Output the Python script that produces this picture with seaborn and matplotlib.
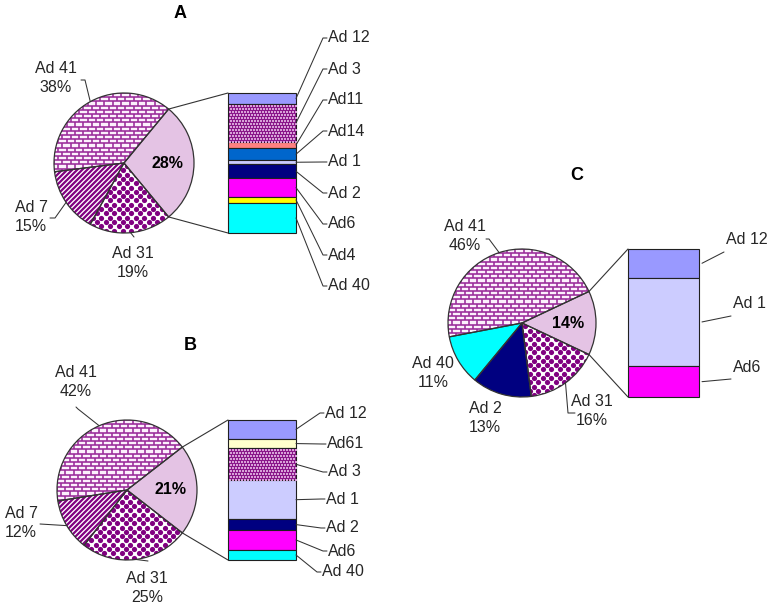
import numpy as np
import matplotlib
matplotlib.use("Agg")
import matplotlib.pyplot as plt
import seaborn as sns
from matplotlib.collections import LineCollection

# ---- data (percent of isolates) ----
# panel A
a_pie_names = ["Others", "Ad 41", "Ad 7", "Ad 31"]
a_pie_values = [28, 38, 15, 19]
a_bar_names = ["Ad 12", "Ad 3", "Ad11", "Ad14", "Ad 1", "Ad 2", "Ad6", "Ad4", "Ad 40"]
a_bar_values = [2.2, 7.5, 1.3, 2.4, 0.8, 2.8, 3.7, 1.2, 6.0]

# panel B
b_pie_names = ["Others", "Ad 41", "Ad 7", "Ad 31"]
b_pie_values = [21, 42, 12, 25]
b_bar_names = ["Ad 12", "Ad61", "Ad 3", "Ad 1", "Ad 2", "Ad6", "Ad 40"]
b_bar_values = [2.8, 1.45, 4.75, 5.85, 1.6, 3.0, 1.5]

# panel C
c_pie_names = ["Others", "Ad 41", "Ad 40", "Ad 2", "Ad 31"]
c_pie_values = [14, 46, 11, 13, 16]
c_bar_names = ["Ad 12", "Ad 1", "Ad6"]
c_bar_values = [2.7, 8.4, 2.9]

PURPLE = "#800080"
pie_face = {"Others": "#e4c3e4", "Ad 41": "#fcf0fc", "Ad 7": "white",
            "Ad 31": "white", "Ad 40": "#00ffff", "Ad 2": "#000080"}
pie_pattern = {"Ad 41": "brick", "Ad 7": "stripe", "Ad 31": "dots"}
bar_face = {"Ad 12": "#9999ff", "Ad 3": "#8a168a", "Ad11": "#ff8080",
            "Ad14": "#0066cc", "Ad 1": "#ccccff", "Ad 2": "#000080",
            "Ad6": "#ff00ff", "Ad4": "#ffff00", "Ad 40": "#00ffff",
            "Ad61": "#ffffcc"}

sns.set_theme(style="white")
plt.rcParams["font.family"] = ["Liberation Sans", "DejaVu Sans"]

fig = plt.figure(figsize=(7.72, 6.09), dpi=100)
ax = fig.add_axes([0, 0, 1, 1])
LINE = "#333333"
TXT = "#262626"


def edge_pt(cx, cy, r, ang):
    t = np.deg2rad(ang)
    return cx + r * np.cos(t), cy - r * np.sin(t)


def add_pattern(kind, patch, cx, cy, r):
    if kind == "brick":
        segs = []
        h, w = 4.2, 8.4
        for k, y0 in enumerate(np.arange(cy - r, cy + r + h, h)):
            segs.append([(cx - r, y0), (cx + r, y0)])
            off = (k % 2) * w / 2
            for x0 in np.arange(cx - r - w + off, cx + r + w, w):
                segs.append([(x0, y0), (x0, y0 + h)])
        lc = LineCollection(segs, colors="#992a99", linewidths=1.15, zorder=2)
        ax.add_collection(lc)
        lc.set_clip_path(patch)
    elif kind == "stripe":
        segs = [[(x0, cy + r), (x0 + 2 * r, cy - r)]
                for x0 in np.arange(cx - 3 * r, cx + r, 5.0)]
        lc = LineCollection(segs, colors=PURPLE, linewidths=1.6, zorder=2)
        ax.add_collection(lc)
        lc.set_clip_path(patch)
    elif kind == "dots":
        xs, ys = [], []
        for k, y0 in enumerate(np.arange(cy - r, cy + r + 5, 4.3)):
            off = (k % 2) * 4.3
            for x0 in np.arange(cx - r - 8.6 + off, cx + r + 8.6, 8.6):
                xs.append(x0)
                ys.append(y0)
        sc = ax.scatter(xs, ys, s=14, marker="o", color=PURPLE, linewidths=0, zorder=2)
        sc.set_clip_path(patch)
    elif kind == "fine":
        x0, y0 = patch.get_x(), patch.get_y()
        w, h = patch.get_width(), patch.get_height()
        xs, ys = [], []
        for k, yy in enumerate(np.arange(y0 + 1.5, y0 + h, 3.0)):
            for xx in np.arange(x0 + 1.5 + (k % 2) * 1.5, x0 + w, 3.0):
                xs.append(xx)
                ys.append(yy)
        sc = ax.scatter(xs, ys, s=1.0, marker="s", color="#d8a0d8", linewidths=0, zorder=3.5)
        sc.set_clip_path(patch)


def panel(title, title_xy, names, values, cx, cy, r, pie_labels,
          bar_names, bar_values, bar_x, bar_w, bar_labels, gap_style=False):
    half = values[0] * 3.6 / 2
    faces = [pie_face[n] for n in names]
    wedges, _ = ax.pie(values, colors=faces, center=(cx, cy), radius=r,
                       startangle=half, counterclock=False, frame=True,
                       wedgeprops=dict(linewidth=0, zorder=1))
    for n, w in zip(names, wedges):
        if n in pie_pattern:
            add_pattern(pie_pattern[n], w, cx, cy, r)
    ax.pie(values, colors=["none"] * len(values), center=(cx, cy), radius=r,
           startangle=half, counterclock=False, frame=True,
           wedgeprops=dict(edgecolor=LINE, linewidth=0.9, fill=False, zorder=3))

    # visual angles of each slice
    cum = np.concatenate([[0], np.cumsum(values)]) * 3.6 - half
    mids = (cum[:-1] + cum[1:]) / 2

    # bold percent inside the exploded slice
    px, py = edge_pt(cx, cy, r * 0.62, mids[0])
    ax.text(px, py, f"{values[0]}%", ha="center", va="center",
            fontsize=11.5, fontweight="bold", color="black", zorder=5)

    # outer labels
    for i, n in enumerate(names[1:], start=1):
        if n not in pie_labels:
            continue
        (tx, ty), leader = pie_labels[n]
        ax.text(tx, ty, f"{n}\n{values[i]}%", ha="center", va="center",
                fontsize=11.5, color=TXT, linespacing=1.3, zorder=5)
        if leader:
            pts = [edge_pt(cx, cy, r, mids[i])] + leader
            ax.plot(*zip(*pts), color=LINE, lw=0.75, zorder=4)

    # stacked bar for the "other" slice
    scale = 2 * r / sum(bar_values)
    heights = np.array(bar_values) * scale
    bottoms = (cy - r) + np.concatenate([[0], np.cumsum(heights)[:-1]])
    bars = ax.bar(bar_x + bar_w / 2, heights, bottom=bottoms, width=bar_w,
                  color=[bar_face[n] for n in bar_names],
                  edgecolor="#202020", linewidth=0.8, zorder=3)
    for n, b in zip(bar_names, bars):
        if n == "Ad 3":
            add_pattern("fine", b, 0, 0, 0)

    # connector lines pie -> bar
    for ang, yb in [(half, cy - r), (-half, cy + r)]:
        ex, ey = edge_pt(cx, cy, r, ang)
        ax.plot([ex, bar_x], [ey, yb], color=LINE, lw=0.8, zorder=4)

    # bar labels with leaders
    for n, h, b0, (tx, ty) in zip(bar_names, heights, bottoms, bar_labels):
        mid = b0 + h / 2
        ax.text(tx, ty, n, ha="left", va="center", fontsize=11.5,
                color=TXT, zorder=5)
        if gap_style:
            ax.plot([bar_x + bar_w + 3, tx - 2], [mid, ty + 12],
                    color=LINE, lw=0.75, zorder=4)
        else:
            ax.plot([bar_x + bar_w, tx - 5, tx - 1], [mid, ty, ty],
                    color=LINE, lw=0.75, zorder=4)

    ax.text(*title_xy, title, ha="center", va="center", fontsize=13,
            fontweight="heavy", color="black")


panel("A", (180, 14), a_pie_names, a_pie_values, 124, 163, 70,
      {"Ad 41": ((56, 78), [(85, 80), (81, 80)]),
       "Ad 7": ((31, 217), [(55, 218), (50, 218)]),
       "Ad 31": ((133, 263), [(134, 237)])},
      a_bar_names, a_bar_values, 228, 68,
      [(328, 38), (328, 69), (328, 100), (328, 131), (328, 162),
       (328, 193), (328, 224), (328, 255), (328, 286)])

panel("B", (190, 346), b_pie_names, b_pie_values, 127, 490, 70,
      {"Ad 41": ((76, 382), [(78, 409), (76, 407)]),
       "Ad 7": ((21, 523), [(40, 524)]),
       "Ad 31": ((147, 588), [(148, 561)])},
      b_bar_names, b_bar_values, 228, 68,
      [(325, 413), (327, 444), (328, 472), (326, 499), (326, 528),
       (328, 551), (322, 572)])

panel("C", (577, 175), c_pie_names, c_pie_values, 522, 323, 74,
      {"Ad 41": ((465, 236), [(489, 239), (486, 239)]),
       "Ad 40": ((433, 373), None),
       "Ad 2": ((485, 418), None),
       "Ad 31": ((592, 411), [(568, 413), (575, 413)])},
      c_bar_names, c_bar_values, 628, 71,
      [(726, 240), (733, 304), (733, 367)], gap_style=True)

ax.set_xlim(0, 772)
ax.set_ylim(609, 0)
ax.set_aspect("auto")
ax.axis("off")

fig.savefig("out.png", dpi=100, facecolor="white")
